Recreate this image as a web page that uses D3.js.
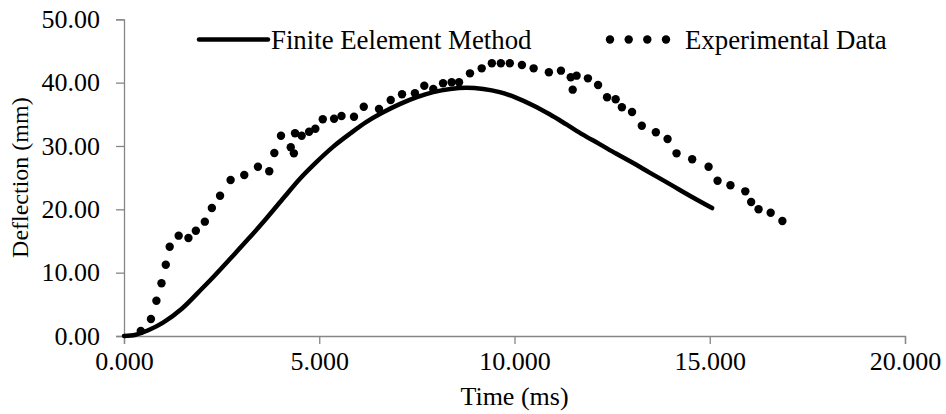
<!DOCTYPE html>
<html>
<head>
<meta charset="utf-8">
<script src="https://cdn.jsdelivr.net/npm/d3@7"></script>
<style>
  html, body { margin: 0; padding: 0; background: #fff; }
  svg { display: block; }
  text { font-family: "Liberation Serif", "Times New Roman", serif; fill: #000; }
</style>
</head>
<body>
<svg id="chart" width="946" height="414"></svg>
<script>
// ---- data ----
const femTime  = [0, 0.3, 0.62, 1.0, 1.48, 2.0, 2.33, 2.75, 3.18, 3.65, 4.1, 4.5, 4.9, 5.36, 5.8, 6.21, 6.6, 7.06, 7.5, 7.92, 8.35, 8.77, 9.2, 9.62, 10.05, 10.48, 10.9, 11.33, 11.75, 12.18, 12.6, 13.04, 13.46, 14.0, 14.5, 15.06];
const femDefl  = [0, 0.2, 0.9, 2.1, 4.3, 7.5, 9.6, 12.4, 15.3, 18.6, 21.9, 24.8, 27.3, 29.9, 32.0, 33.8, 35.2, 36.6, 37.7, 38.5, 39.0, 39.2, 39.0, 38.5, 37.6, 36.4, 35.0, 33.4, 31.8, 30.3, 28.8, 27.3, 25.8, 23.9, 22.1, 20.2];

const expTime = [0.43, 0.69, 0.83, 0.96, 1.07, 1.17, 1.40, 1.65, 1.84, 2.07, 2.25, 2.46, 2.73, 3.08, 3.43, 3.72, 3.85, 4.02, 4.27, 4.35, 4.38, 4.55, 4.74, 4.90, 5.09, 5.38, 5.57, 5.89, 6.14, 6.53, 6.83, 7.12, 7.45, 7.69, 7.92, 8.17, 8.39, 8.58, 8.86, 9.16, 9.42, 9.65, 9.88, 10.19, 10.49, 10.88, 11.19, 11.44, 11.59, 11.49, 11.88, 12.14, 12.37, 12.59, 12.75, 13.01, 13.26, 13.62, 13.92, 14.15, 14.55, 14.97, 15.20, 15.53, 15.91, 16.06, 16.25, 16.56, 16.86];
const expDefl = [0.79, 2.68, 5.57, 8.32, 11.26, 14.10, 15.84, 15.47, 16.62, 18.05, 20.21, 22.15, 24.63, 25.42, 26.73, 26.00, 28.89, 31.62, 29.79, 28.84, 32.00, 31.62, 32.25, 32.73, 34.21, 34.31, 34.73, 34.62, 36.20, 35.84, 37.26, 38.16, 38.32, 39.52, 39.00, 39.90, 40.05, 40.05, 41.47, 42.26, 43.05, 43.05, 43.05, 42.78, 42.26, 41.63, 41.89, 40.84, 41.10, 38.89, 40.68, 39.63, 37.69, 37.37, 36.11, 35.36, 33.20, 32.16, 31.10, 28.84, 27.90, 26.73, 24.52, 23.79, 22.84, 21.16, 20.00, 19.47, 18.16];

const xTicks = [0, 5, 10, 15, 20];
const yTicks = [0, 10, 20, 30, 40, 50];
const seriesNames = ["Finite Eelement Method", "Experimental Data"];
const xTitle = "Time (ms)";
const yTitle = "Deflection (mm)";

// ---- chart ----
const svg = d3.select("#chart");
const axisColor = "#868686";
const fs = 26;

const x = d3.scaleLinear().domain([0, 20]).range([124, 905]);
const y = d3.scaleLinear().domain([0, 50]).range([336, 19.3]);

// axes
const xAxis = svg.append("g").attr("transform", `translate(0,${y(0)})`)
  .call(d3.axisBottom(x).tickValues(xTicks).tickFormat(d3.format(".3f")).tickSizeOuter(0).tickSize(8).tickPadding(8));
const yAxis = svg.append("g").attr("transform", `translate(${x(0)},0)`)
  .call(d3.axisLeft(y).tickValues(yTicks).tickFormat(d3.format(".2f")).tickSizeOuter(0).tickSize(8).tickPadding(16));
[xAxis, yAxis].forEach(a => {
  a.select(".domain").attr("stroke", axisColor).attr("stroke-width", 1.3);
  a.selectAll(".tick line").attr("stroke", axisColor).attr("stroke-width", 1.3);
  a.selectAll(".tick text").attr("font-size", fs).attr("font-family", "Liberation Serif, Times New Roman, serif").attr("fill", "#000");
});

// FEM line
const line = d3.line().x((d, i) => x(femTime[i])).y((d, i) => y(femDefl[i])).curve(d3.curveCatmullRom.alpha(0.5));
svg.append("path").datum(femDefl).attr("d", line)
  .attr("fill", "none").attr("stroke", "#000").attr("stroke-width", 4.5)
  .attr("stroke-linecap", "round").attr("stroke-linejoin", "round");

// Experimental dots
svg.append("g").selectAll("circle").data(expDefl).join("circle")
  .attr("cx", (d, i) => x(expTime[i])).attr("cy", d => y(d)).attr("r", 4.2).attr("fill", "#000");

// Legend
const leg = svg.append("g");
leg.append("line").attr("x1", 199).attr("x2", 268).attr("y1", 39.5).attr("y2", 39.5)
  .attr("stroke", "#000").attr("stroke-width", 4.5).attr("stroke-linecap", "round");
leg.append("text").attr("x", 271).attr("y", 39.5).attr("dy", "0.35em").attr("font-size", 26.8).text(seriesNames[0]);
leg.selectAll("circle.l").data([610, 628.7, 647.3, 666]).join("circle")
  .attr("cx", d => d).attr("cy", 39.5).attr("r", 4.2).attr("fill", "#000");
leg.append("text").attr("x", 685).attr("y", 39.5).attr("dy", "0.35em").attr("font-size", 26.8).text(seriesNames[1]);

// Axis titles
svg.append("text").attr("x", 514.5).attr("y", 405).attr("text-anchor", "middle").attr("font-size", fs).text(xTitle);
svg.append("text").attr("transform", `translate(28,${(y(0) + y(50)) / 2}) rotate(-90)`)
  .attr("text-anchor", "middle").attr("font-size", 24).text(yTitle);
</script>
</body>
</html>
